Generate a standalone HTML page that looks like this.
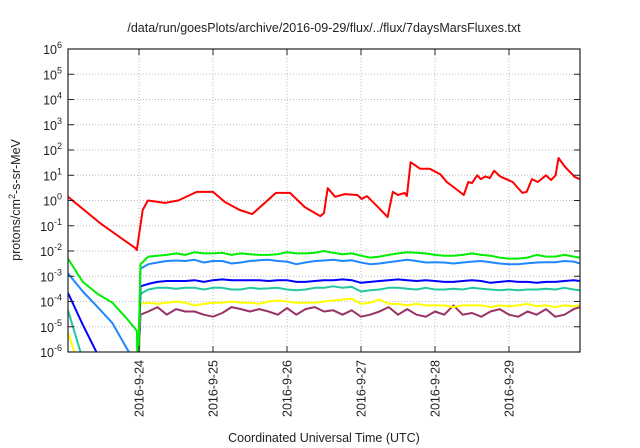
<!DOCTYPE html>
<html><head><meta charset="utf-8"><style>
html,body{margin:0;padding:0;background:#fff;}
svg{display:block;font-family:"Liberation Sans",sans-serif;}
</style></head><body>
<svg id="chart" width="640" height="448" viewBox="0 0 640 448" xmlns="http://www.w3.org/2000/svg">
<text x="324" y="32" font-size="12.5" text-anchor="middle" fill="#222">/data/run/goesPlots/archive/2016-09-29/flux/../flux/7daysMarsFluxes.txt</text>
<text transform="translate(20,200) rotate(-90)" font-size="12.5" text-anchor="middle" fill="#222">protons/cm<tspan dy="-5" font-size="9">2</tspan><tspan dy="5">-s-sr-MeV</tspan></text>
<text x="324" y="442" font-size="12.5" text-anchor="middle" fill="#222">Coordinated Universal Time (UTC)</text>
<g id="grid"></g>
<g id="series" clip-path="url(#clip)"></g>
<defs><clipPath id="clip"><rect x="68" y="49" width="512" height="303"/></clipPath></defs>
<rect x="68" y="49" width="512" height="303" fill="none" stroke="#222" stroke-width="1.2"/>
<g id="axes"></g>
</svg>
<script>
// x in days since 2016-09-23 00:00 UTC
const xDomain = [0.04, 6.96];
const yExpMin = -6, yExpMax = 6;
const xTickLabels = ["2016-9-24","2016-9-25","2016-9-26","2016-9-27","2016-9-28","2016-9-29"];
const xTickDays = [1,2,3,4,5,6];

const redTimes = [0.04,0.47,0.95,0.97,1.05,1.12,1.35,1.53,1.78,2.0,2.16,2.36,2.53,2.70,2.85,3.04,3.24,3.45,3.50,3.55,3.65,3.78,3.95,4.01,4.08,4.23,4.36,4.43,4.50,4.59,4.62,4.67,4.80,4.93,5.07,5.16,5.39,5.45,5.50,5.57,5.62,5.68,5.74,5.80,5.88,6.05,6.18,6.24,6.31,6.39,6.50,6.57,6.63,6.67,6.76,6.89,6.96];
const redValues = [1.4,0.13,0.013,0.011,0.42,1.0,0.8,1.0,2.2,2.2,0.87,0.42,0.29,0.8,2.0,2.0,0.55,0.24,0.32,3.1,1.4,1.8,1.65,1.15,1.5,0.55,0.22,2.2,1.65,2.0,1.5,33,18,18,11,5.4,1.65,5.4,4.9,10,7,9,7.7,15,9,5.4,2.0,2.2,7,5.4,10,6.5,10,48,21,8.5,7];

const times = [0.04,0.24,0.44,0.64,0.84,0.97,0.985,1.02,
1.125,1.25,1.375,1.5,1.625,1.75,1.875,2.0,
2.125,2.25,2.375,2.5,2.625,2.75,2.875,3.0,
3.125,3.25,3.375,3.5,3.625,3.75,3.875,4.0,
4.125,4.25,4.375,4.5,4.625,4.75,4.875,5.0,
5.125,5.25,5.375,5.5,5.625,5.75,5.875,6.0,
6.125,6.25,6.375,6.5,6.625,6.75,6.875,6.96];
const greenValues = [5e-3,6e-4,2e-4,9e-5,2e-5,7e-6,1e-7,3e-3,
6e-3,6.5e-3,7e-3,8e-3,7e-3,9e-3,8e-3,8e-3,
8.5e-3,7e-3,8e-3,7.5e-3,7e-3,7e-3,7.5e-3,9e-3,
8e-3,8e-3,8.5e-3,10e-3,8.5e-3,7.5e-3,8e-3,6.5e-3,
5.5e-3,6e-3,7e-3,8e-3,9e-3,8.5e-3,8e-3,7e-3,
6.5e-3,6.5e-3,7e-3,8e-3,7e-3,6.5e-3,5.5e-3,5e-3,
5e-3,5.5e-3,7e-3,6e-3,6e-3,7e-3,6e-3,5.5e-3];
const lightBlueValues = [1.3e-3,2.5e-4,6e-5,1.4e-5,1.3e-6,3e-7,1e-7,2e-3,
3e-3,3.5e-3,4e-3,4.2e-3,4e-3,4.5e-3,3.5e-3,4e-3,
4e-3,3.2e-3,3.5e-3,4e-3,4.3e-3,4.5e-3,4e-3,3.8e-3,
3e-3,3.5e-3,4e-3,4.2e-3,4.5e-3,4e-3,4.3e-3,3.5e-3,
3e-3,3.2e-3,3.6e-3,4e-3,4.5e-3,4e-3,3.5e-3,3.6e-3,
3.5e-3,3.2e-3,3.5e-3,3.8e-3,4e-3,3.6e-3,3.2e-3,3e-3,
3e-3,3.3e-3,3.5e-3,3.6e-3,3.6e-3,4e-3,3.8e-3,3.2e-3];
const blueValues = [2.2e-4,1.2e-5,8e-7,1e-7,1e-7,1e-7,1e-7,4e-4,
5e-4,6e-4,6.5e-4,6.5e-4,6.5e-4,7e-4,6e-4,7e-4,
7.5e-4,7e-4,7e-4,7e-4,7e-4,6.5e-4,7e-4,7e-4,
6e-4,6e-4,6.5e-4,7e-4,7e-4,7.5e-4,7e-4,5.5e-4,
6e-4,6.5e-4,7e-4,7.5e-4,7e-4,6.5e-4,7e-4,6.5e-4,
6e-4,6e-4,6.5e-4,7e-4,6.5e-4,5.5e-4,6e-4,6.5e-4,
6e-4,6e-4,5.5e-4,6e-4,6e-4,6.5e-4,7e-4,6.5e-4];
const tealValues = [4.5e-5,5e-7,1e-7,1e-7,1e-7,1e-7,1e-7,2e-4,
3e-4,3.5e-4,3.5e-4,3.2e-4,3.5e-4,3.5e-4,3e-4,3.5e-4,
3.5e-4,3e-4,3e-4,3.5e-4,3.2e-4,3.3e-4,3.5e-4,3e-4,
2.8e-4,3e-4,3.5e-4,3.5e-4,4e-4,3.5e-4,3.8e-4,2.5e-4,
2.8e-4,3e-4,3.5e-4,3.5e-4,3.2e-4,3e-4,3.5e-4,3e-4,
3e-4,3.2e-4,3e-4,3.5e-4,3.2e-4,3e-4,2.8e-4,3e-4,
2.8e-4,3e-4,3e-4,3.2e-4,3e-4,3.5e-4,3e-4,2.8e-4];
const yellowValues = [6e-6,1e-7,1e-7,1e-7,1e-7,1e-7,1e-7,8e-5,
9e-5,8e-5,9e-5,10e-5,9e-5,7e-5,8e-5,9e-5,
9e-5,10e-5,9e-5,9e-5,8e-5,10e-5,11e-5,10e-5,
9e-5,9e-5,9e-5,10e-5,11e-5,12e-5,13e-5,8e-5,
9e-5,12e-5,8e-5,8e-5,7e-5,8e-5,7e-5,7e-5,
7e-5,6e-5,7e-5,7e-5,7e-5,6e-5,7e-5,6.5e-5,
7e-5,8e-5,6.5e-5,7e-5,6e-5,7e-5,6.5e-5,7e-5];
const purpleValues = [1e-7,1e-7,1e-7,1e-7,1e-7,1e-7,1e-7,3e-5,
4e-5,6e-5,3e-5,5e-5,4e-5,4e-5,3e-5,2.5e-5,
3.5e-5,6e-5,5e-5,4e-5,5e-5,4e-5,3e-5,5.5e-5,
3e-5,5e-5,6e-5,4e-5,4.5e-5,3e-5,4.5e-5,2.5e-5,
3e-5,4e-5,6e-5,3e-5,5e-5,3e-5,2.5e-5,4e-5,
3e-5,7e-5,3e-5,3.5e-5,2.5e-5,4e-5,5e-5,3e-5,
2.5e-5,4e-5,3e-5,5e-5,2.5e-5,3e-5,5e-5,6e-5];

const PL=68, PR=580, PT=49, PB=352;
const NS="http://www.w3.org/2000/svg";
function xScale(d){return PL+(d-xDomain[0])/(xDomain[1]-xDomain[0])*(PR-PL);}
function yScale(v){const e=Math.log10(v);return PB-(e-yExpMin)/(yExpMax-yExpMin)*(PB-PT);}
function mk(tag,attrs,parent){const el=document.createElementNS(NS,tag);for(const k in attrs)el.setAttribute(k,attrs[k]);parent.appendChild(el);return el;}

const grid=document.getElementById('grid'), axes=document.getElementById('axes'), series=document.getElementById('series');
for(let e=yExpMin;e<=yExpMax;e++){
  const y=yScale(Math.pow(10,e));
  if(e>yExpMin&&e<yExpMax){
    const g=mk('line',{x1:PL,x2:PR,y1:y,y2:y,stroke:'#bbb','stroke-width':1,'stroke-dasharray':'1,2'},grid);
    
    
  }
  const t1=mk('line',{x1:PL,x2:PL+6,y1:y,y2:y,stroke:'#222'},axes);
  
  
  const t2=mk('line',{x1:PR-6,x2:PR,y1:y,y2:y,stroke:'#222'},axes);
  
  
  const lab=mk('text',{x:PL-6,y:y+5,'font-size':12.5,'text-anchor':'end',fill:'#222'},axes);
  
  
  lab.innerHTML='10<tspan dy="-6" font-size="9">'+(e<0?'-'+(-e):e)+'</tspan>';
  const bb=lab.getBBox?null:null;
}
// right-align: place base text with exponent - adjust by shifting whole label
xTickDays.forEach((d,i)=>{
  const x=xScale(d);
  const g=mk('line',{x1:x,x2:x,y1:PT,y2:PB,stroke:'#bbb','stroke-width':1,'stroke-dasharray':'1,2'},grid);
  
  
  const t1=mk('line',{x1:x,x2:x,y1:PB-6,y2:PB,stroke:'#222'},axes);
  
  
  const t2=mk('line',{x1:x,x2:x,y1:PT,y2:PT+6,stroke:'#222'},axes);
  
  
  const lab=mk('text',{transform:'translate('+(x+4.5)+','+(PB+8)+') rotate(-90)','font-size':12.5,'text-anchor':'end',fill:'#222'},axes);
  
  
  lab.textContent=xTickLabels[i];
});

function drawLine(ts,vs,color,name){
  const pts=ts.map((t,i)=>xScale(t).toFixed(1)+','+yScale(vs[i]).toFixed(1)).join(' ');
  const p=mk('polyline',{points:pts,fill:'none',stroke:color,'stroke-width':2,'stroke-linejoin':'round'},series);
  
  
}
drawLine(times,purpleValues,'#993366','series-purple');
drawLine(times,yellowValues,'#ffff00','series-yellow');
drawLine(times,tealValues,'#20c8a0','series-teal');
drawLine(times,blueValues,'#0000ff','series-blue');
drawLine(times,lightBlueValues,'#1e88ff','series-light-blue');
drawLine(times,greenValues,'#00ee00','series-green');
drawLine(redTimes,redValues,'#ff0000','series-red');
</script>
</body></html>
